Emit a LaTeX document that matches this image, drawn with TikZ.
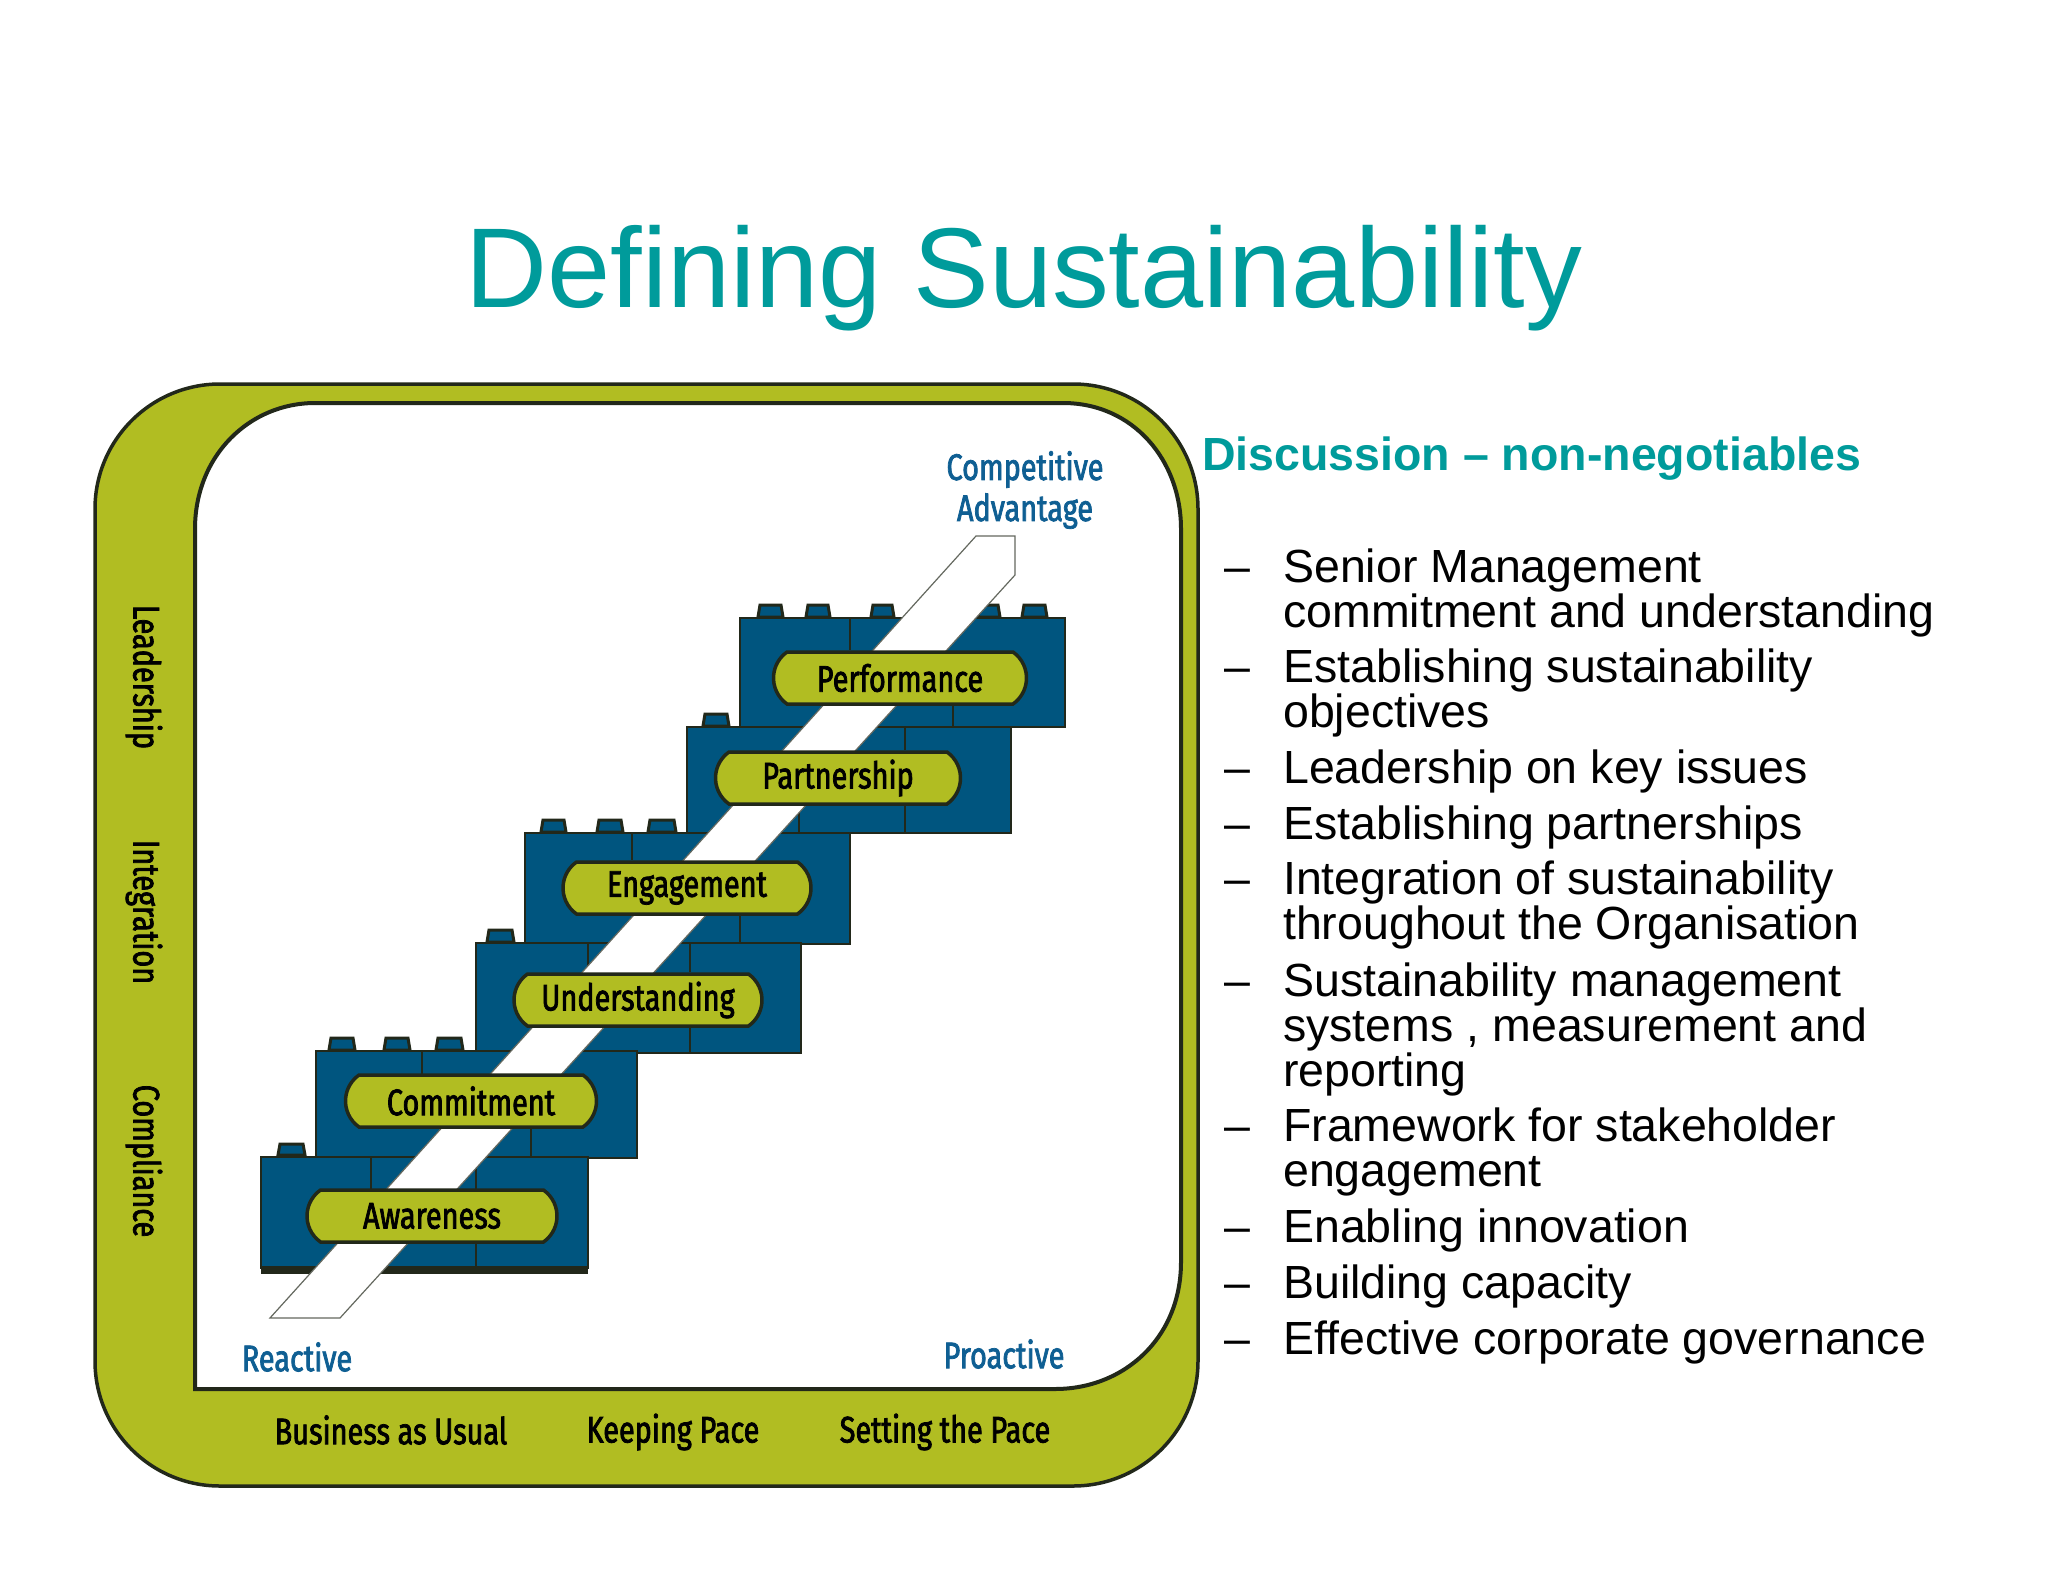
\documentclass[tikz,border=0pt]{standalone}
\usepackage{fontspec}
\usetikzlibrary{shapes.misc}
\setmainfont{Liberation Sans}
\newfontfamily\brickfont[FakeStretch=0.78,FakeBold=2]{Fira Sans}
\definecolor{tealhead}{HTML}{009B9B}
\definecolor{olive}{HTML}{B1BD22}
\definecolor{brickblue}{HTML}{00557F}
\definecolor{labelblue}{HTML}{0F5F93}
\definecolor{edge}{HTML}{22281A}
\tikzset{
  frameout/.style={fill=olive, draw=edge, line width=3.5pt},
  framein/.style={fill=white, draw=edge, line width=4pt},
  brick/.style={fill=brickblue, draw=edge, line width=2.5pt},
  stud/.style={fill=brickblue, draw=edge, line width=3pt},
  seam/.style={draw=edge, line width=2.5pt},
  ribbon/.style={fill=white, draw=edge!70, line width=1.2pt},
  pill/.style={rounded rectangle, rounded rectangle arc length=110, fill=olive, draw=edge, line width=3.5pt, inner sep=0pt, text=black, minimum height=52pt, font=\brickfont\fontsize{37}{42}\selectfont},
  edgelabel/.style={inner sep=0pt, text=black, font=\brickfont\fontsize{37}{42}\selectfont},
  bluelabel/.style={inner sep=0pt, text=labelblue, align=center, font=\brickfont\fontsize{37}{41}\selectfont},
  itemdash/.style={anchor=north west, inner sep=0pt, text height=33pt, font=\fontsize{46.5}{45}\selectfont},
  itemtext/.style={anchor=north west, inner sep=0pt, align=left, font=\fontsize{46.5}{45}\selectfont},
}
\begin{document}
\begin{tikzpicture}[x=1pt,y=-1pt]
\useasboundingbox[fill=white] (0,0) rectangle (2048,1582);
\node[text=tealhead, inner sep=0pt, anchor=base, font=\fontsize{113.5}{120}\selectfont] (title) at (1024,307) {Defining Sustainability};
% frame
\draw[frameout, rounded corners=125] (95,384) rectangle (1198,1486);
\draw[framein] (195,1389) -- (195,529) .. controls (195,455) and (250,403) .. (315,403) -- (1063,403) .. controls (1133,403) and (1181,460) .. (1181,529) -- (1181,1262) .. controls (1181,1338) and (1124,1389) .. (1055,1389) -- cycle;
% performance
\draw[stud] (758,617) -- (760,605) -- (781,605) -- (783,617) -- cycle;
\draw[stud] (806,617) -- (808,605) -- (828,605) -- (830,617) -- cycle;
\draw[stud] (871,617) -- (873,605) -- (892,605) -- (894,617) -- cycle;
\draw[stud] (978,617) -- (980,605) -- (998,605) -- (1000,617) -- cycle;
\draw[stud] (1022,617) -- (1024,605) -- (1045,605) -- (1047,617) -- cycle;
\draw[brick] (740,618) rectangle (1065,727);
\draw[seam] (850,618) -- (850,650);
\draw[seam] (953,704) -- (953,727);
% partnership
\draw[stud] (703,726) -- (705,714) -- (727,714) -- (729,726) -- cycle;
\draw[brick] (687,727) rectangle (1011,833);
\draw[seam] (905,727) -- (905,750);
\draw[seam] (799,805) -- (799,833);
\draw[seam] (905,805) -- (905,833);
% engagement
\draw[stud] (541,832) -- (543,820) -- (564,820) -- (566,832) -- cycle;
\draw[stud] (597,832) -- (599,820) -- (621,820) -- (623,832) -- cycle;
\draw[stud] (648,832) -- (650,820) -- (674,820) -- (676,832) -- cycle;
\draw[brick] (525,833) rectangle (850,944);
\draw[seam] (632,833) -- (632,860);
\draw[seam] (740,910) -- (740,944);
% understanding
\draw[stud] (487,942) -- (489,930) -- (512,930) -- (514,942) -- cycle;
\draw[brick] (476,943) rectangle (801,1053);
\draw[seam] (588,943) -- (588,972);
\draw[seam] (690,943) -- (690,972);
\draw[seam] (690,1027) -- (690,1053);
% commitment
\draw[stud] (329,1050) -- (331,1038) -- (353,1038) -- (355,1050) -- cycle;
\draw[stud] (384,1050) -- (386,1038) -- (408,1038) -- (410,1050) -- cycle;
\draw[stud] (436,1050) -- (438,1038) -- (461,1038) -- (463,1050) -- cycle;
\draw[brick] (316,1051) rectangle (637,1158);
\draw[seam] (422,1051) -- (422,1076);
\draw[seam] (531,1126) -- (531,1158);
% awareness
\draw[stud] (278,1155) -- (280,1144) -- (303,1144) -- (305,1155) -- cycle;
\draw[brick] (261,1157) rectangle (588,1268);
\draw[seam] (371,1157) -- (371,1191);
\draw[seam] (476,1157) -- (476,1191);
\draw[seam] (476,1243) -- (476,1268);
\draw[edge, line width=8pt] (261,1270) -- (588,1270);
% ribbon
\draw[ribbon] (976,536) -- (1015,536) -- (1015,575) -- (340,1318) -- (270,1318) -- cycle;
% steps
\node[pill, minimum width=253pt] (performance) at (900,678) {Performance};
\node[pill, minimum width=245pt] (partnership) at (838,778) {Partnership};
\node[pill, minimum width=248pt] (engagement) at (687,888) {Engagement};
\node[pill, minimum width=248pt] (understanding) at (638,1000) {Understanding};
\node[pill, minimum width=251pt] (commitment) at (471,1101) {Commitment};
\node[pill, minimum width=250pt] (awareness) at (432,1216) {Awareness};
% labels on the picture
\node[bluelabel] (advantage) at (1025,490) {Competitive\\Advantage};
\node[bluelabel] (reactive) at (297,1357) {Reactive};
\node[bluelabel] (proactive) at (1004,1354) {Proactive};
\node[edgelabel] (usual) at (391,1430) {Business as Usual};
\node[edgelabel] (keeping) at (673,1432) {Keeping Pace};
\node[edgelabel] (setting) at (945,1432) {Setting the Pace};
\node[edgelabel, rotate=-90] (leadership) at (144,677) {Leadership};
\node[edgelabel, rotate=-90] (integration) at (144,912) {Integration};
\node[edgelabel, rotate=-90] (compliance) at (144,1161) {Compliance};
% discussion
\node[anchor=base west, inner sep=0pt, text=tealhead, font=\bfseries\fontsize{46.5}{50}\selectfont] (discussion) at (1202,470) {Discussion – non-negotiables};
\node[itemdash] (dash1) at (1224,549) {–};
\node[itemtext] (item1) at (1283,549) {Senior Management\\commitment and understanding};
\node[itemdash] (dash2) at (1224,649) {–};
\node[itemtext] (item2) at (1283,649) {Establishing sustainability\\objectives};
\node[itemdash] (dash3) at (1224,750) {–};
\node[itemtext] (item3) at (1283,750) {Leadership on key issues};
\node[itemdash] (dash4) at (1224,806) {–};
\node[itemtext] (item4) at (1283,806) {Establishing partnerships};
\node[itemdash] (dash5) at (1224,861) {–};
\node[itemtext] (item5) at (1283,861) {Integration of sustainability\\throughout the Organisation};
\node[itemdash] (dash6) at (1224,963) {–};
\node[itemtext] (item6) at (1283,963) {Sustainability management\\systems , measurement and\\reporting};
\node[itemdash] (dash7) at (1224,1108) {–};
\node[itemtext] (item7) at (1283,1108) {Framework for stakeholder\\engagement};
\node[itemdash] (dash8) at (1224,1209) {–};
\node[itemtext] (item8) at (1283,1209) {Enabling innovation};
\node[itemdash] (dash9) at (1224,1265) {–};
\node[itemtext] (item9) at (1283,1265) {Building capacity};
\node[itemdash] (dash10) at (1224,1321) {–};
\node[itemtext] (item10) at (1283,1321) {Effective corporate governance};
\end{tikzpicture}
\end{document}
